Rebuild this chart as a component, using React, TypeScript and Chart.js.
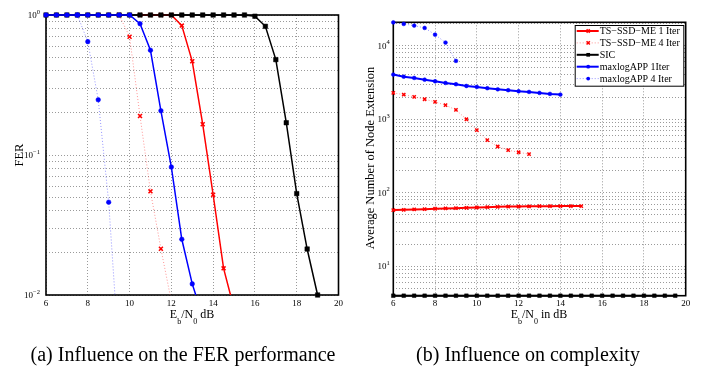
import React, { useEffect, useRef } from "react";
import { Chart, registerables } from "chart.js";
Chart.register(...registerables);

const FONT = "'Liberation Serif','Times New Roman',Times,serif";

// ---------- (a) FER vs Eb/N0 ----------
const FER_SIC_X = [6, 6.5, 7, 7.5, 8, 8.5, 9, 9.5, 10, 10.5, 11, 11.5, 12, 12.5, 13, 13.5, 14, 14.5, 15, 15.5, 16, 16.5, 17, 17.5, 18, 18.5, 19];
const FER_SIC = [1, 1, 1, 1, 1, 1, 1, 1, 1, 1, 1, 1, 1, 1, 1, 1, 1, 1, 1, 1, 0.98, 0.83, 0.48, 0.17, 0.053, 0.0213, 0.01];
const FER_TS1_X = [10.5, 11, 11.5, 12, 12.5, 13, 13.5, 14, 14.5, 15];
const FER_TS1 = [1, 1, 1, 1, 0.84, 0.467, 0.166, 0.052, 0.0155, 0.008];
const FER_TS4_X = [9.5, 10, 10.5, 11, 11.5, 12];
const FER_TS4 = [1, 0.7, 0.19, 0.055, 0.0214, 0.009];
const FER_MAX1_X = [6, 6.5, 7, 7.5, 8, 8.5, 9, 9.5, 10, 10.5, 11, 11.5, 12, 12.5, 13, 13.5];
const FER_MAX1 = [1, 1, 1, 1, 1, 1, 1, 1, 1, 0.867, 0.56, 0.207, 0.082, 0.025, 0.012, 0.007];
const FER_MAX4_X = [7.5, 8, 8.5, 9, 9.5];
const FER_MAX4 = [1, 0.645, 0.248, 0.046, 0.0036];

const LEFT_X_TICKS = [6, 8, 10, 12, 14, 16, 18, 20];
const LEFT_Y_DECADES: [number, string][] = [[1, "0"], [0.1, "\u22121"], [0.01, "\u22122"]];
const LEFT_Y_GRID = [0.01, 0.02, 0.03, 0.04, 0.05, 0.06, 0.07, 0.08, 0.09, 0.1, 0.2, 0.3, 0.4, 0.5, 0.6, 0.7, 0.8, 0.9, 1];

// ---------- (b) complexity ----------
const CX_SIC_X = [6, 6.5, 7, 7.5, 8, 8.5, 9, 9.5, 10, 10.5, 11, 11.5, 12, 12.5, 13, 13.5, 14, 14.5, 15, 15.5, 16, 16.5, 17, 17.5, 18, 18.5, 19, 19.5];
const CX_SIC = [4, 4, 4, 4, 4, 4, 4, 4, 4, 4, 4, 4, 4, 4, 4, 4, 4, 4, 4, 4, 4, 4, 4, 4, 4, 4, 4, 4];
const CX_TS1_X = [6, 6.5, 7, 7.5, 8, 8.5, 9, 9.5, 10, 10.5, 11, 11.5, 12, 12.5, 13, 13.5, 14, 14.5, 15];
const CX_TS1 = [58.2, 58.8, 59.4, 60, 60.7, 61.3, 61.9, 62.5, 63.2, 63.8, 64.5, 65, 65.2, 65.6, 65.9, 65.9, 66, 66, 66];
const CX_TS4_X = [6, 6.5, 7, 7.5, 8, 8.5, 9, 9.5, 10, 10.5, 11, 11.5, 12, 12.5];
const CX_TS4 = [2280, 2160, 2010, 1870, 1720, 1550, 1340, 1000, 710, 519, 426, 380, 356, 335];
const CX_MAX1_X = [6, 6.5, 7, 7.5, 8, 8.5, 9, 9.5, 10, 10.5, 11, 11.5, 12, 12.5, 13, 13.5, 14];
const CX_MAX1 = [4040, 3790, 3640, 3450, 3280, 3110, 2990, 2830, 2750, 2640, 2550, 2480, 2400, 2350, 2280, 2210, 2160];
const CX_MAX4_X = [6, 6.5, 7, 7.5, 8, 8.5, 9];
const CX_MAX4 = [20700, 19700, 18700, 17400, 14100, 11000, 6200];

const RIGHT_X_TICKS = [6, 8, 10, 12, 14, 16, 18, 20];
const RIGHT_Y_DECADES: [number, string][] = [[10, "1"], [100, "2"], [1000, "3"], [10000, "4"]];
const RIGHT_Y_GRID = [4, 5, 6, 7, 8, 9, 10, 20, 30, 40, 50, 60, 70, 80, 90, 100, 200, 300, 400, 500, 600, 700, 800, 900, 1000, 2000, 3000, 4000, 5000, 6000, 7000, 8000, 9000, 10000, 20000];

const LEGEND_LABELS = ["TS\u2212SSD\u2212ME 1 Iter", "TS\u2212SSD\u2212ME 4 Iter", "SIC", "maxlogAPP 1Iter", "maxlogAPP 4 Iter"];

const RED = "#ff0000";
const BLUE = "#0000ff";
const RED_LIGHT = "rgba(255,60,60,0.55)";
const BLUE_LIGHT = "rgba(60,60,255,0.55)";

const pts = (xs: number[], ys: number[]) => xs.map((x, i) => ({ x, y: ys[i] }));

type Part = { t: string; size: number; dy?: number };
function drawParts(ctx: CanvasRenderingContext2D, parts: Part[], x: number, y: number, align: "left" | "center" | "right") {
  let w = 0;
  for (const p of parts) {
    ctx.font = `${p.size}px ${FONT}`;
    w += ctx.measureText(p.t).width;
  }
  let cx = align === "left" ? x : align === "center" ? x - w / 2 : x - w;
  ctx.textAlign = "left";
  ctx.textBaseline = "alphabetic";
  for (const p of parts) {
    ctx.font = `${p.size}px ${FONT}`;
    ctx.fillText(p.t, cx, y + (p.dy || 0));
    cx += ctx.measureText(p.t).width;
  }
}

function drawMarker(ctx: CanvasRenderingContext2D, style: string, x: number, y: number, r: number, color: string) {
  ctx.save();
  ctx.fillStyle = color;
  ctx.strokeStyle = color;
  ctx.setLineDash([]);
  if (style === "circle") {
    ctx.beginPath();
    ctx.arc(x, y, r, 0, Math.PI * 2);
    ctx.fill();
  } else if (style === "rect") {
    const s = r * Math.SQRT1_2;
    ctx.fillRect(x - s, y - s, 2 * s, 2 * s);
  } else {
    const s = r * Math.SQRT1_2;
    ctx.lineWidth = 1.5;
    ctx.beginPath();
    ctx.moveTo(x - s, y - s);
    ctx.lineTo(x + s, y + s);
    ctx.moveTo(x - s, y + s);
    ctx.lineTo(x + s, y - s);
    ctx.stroke();
  }
  ctx.restore();
}

function gridScales(xMin: number, xMax: number, yMin: number, yMax: number, xTicks: number[], yGrid: number[]) {
  const grid = { color: "#9a9a9a", lineWidth: 1, drawTicks: false };
  const border = { display: false, dash: [1, 2] };
  return {
    x: {
      type: "linear" as const,
      min: xMin,
      max: xMax,
      grid,
      border,
      ticks: { display: false },
      afterBuildTicks: (s: any) => { s.ticks = xTicks.map((v) => ({ value: v })); },
    },
    y: {
      type: "logarithmic" as const,
      min: yMin,
      max: yMax,
      grid,
      border,
      ticks: { display: false },
      afterBuildTicks: (s: any) => { s.ticks = yGrid.map((v) => ({ value: v })); },
    },
  };
}

const frameBefore = (lw: number) => ({
  id: "frame",
  beforeDatasetsDraw(chart: any) {
    const { ctx, chartArea: a } = chart;
    ctx.save();
    ctx.strokeStyle = "#000";
    ctx.lineWidth = lw;
    ctx.strokeRect(a.left, a.top, a.right - a.left, a.bottom - a.top);
    ctx.restore();
  },
});

const ebParts = (tail: string): Part[] => [
  { t: "E", size: 12 },
  { t: "b", size: 8, dy: 5.5 },
  { t: "/N", size: 12 },
  { t: "0", size: 8, dy: 5.5 },
  { t: tail, size: 12 },
];

export default function App() {
  const leftRef = useRef<HTMLCanvasElement>(null);
  const rightRef = useRef<HTMLCanvasElement>(null);

  useEffect(() => {
    const RX = 350;
    const leftDecor = {
      id: "leftDecor",
      afterDraw(chart: any) {
        const { ctx, chartArea: a, scales } = chart;
        const x = scales.x, y = scales.y;
        ctx.save();
        ctx.fillStyle = "#000";
        for (const v of LEFT_X_TICKS) drawParts(ctx, [{ t: String(v), size: 9 }], x.getPixelForValue(v), 306, "center");
        for (const [v, e] of LEFT_Y_DECADES)
          drawParts(ctx, [{ t: "10", size: 9 }, { t: e, size: 6.5, dy: -4.5 }], a.left - 6, y.getPixelForValue(v) + 3, "right");
        drawParts(ctx, ebParts(" dB"), 192, 318, "center");
        drawParts(ctx, [{ t: "(a) Influence on the FER performance", size: 20 }], 183, 361, "center");
        ctx.translate(18, 155);
        ctx.rotate(-Math.PI / 2);
        drawParts(ctx, [{ t: "FER", size: 12.5 }], 0, 4.5, "center");
        ctx.restore();
      },
    };

    const clipBottom = { left: 6, top: 6, right: 6, bottom: 0 };
    const left = new Chart(leftRef.current!, {
      type: "line",
      data: {
        datasets: [
          { label: "maxlogAPP 1Iter", data: pts(FER_MAX1_X, FER_MAX1), borderColor: BLUE, backgroundColor: BLUE, borderWidth: 1.5, pointStyle: "circle", pointRadius: 2.3, pointBorderWidth: 0.5, pointBackgroundColor: BLUE, pointBorderColor: BLUE, clip: clipBottom, order: 0 },
          { label: "maxlogAPP 4 Iter", data: pts(FER_MAX4_X, FER_MAX4), borderColor: BLUE_LIGHT, borderDash: [1, 2], borderWidth: 1, pointStyle: "circle", pointRadius: 2.3, pointBorderWidth: 0.5, pointBackgroundColor: BLUE, pointBorderColor: BLUE, clip: clipBottom, order: 1 },
          { label: "SIC", data: pts(FER_SIC_X, FER_SIC), borderColor: "#000", borderWidth: 1.5, pointStyle: "rect", pointRadius: 3.2, pointBorderWidth: 0.5, pointBackgroundColor: "#000", pointBorderColor: "#000", clip: false as any, order: 2 },
          { label: "TS-SSD-ME 1 Iter", data: pts(FER_TS1_X, FER_TS1), borderColor: RED, borderWidth: 1.5, pointStyle: "crossRot", pointRadius: 2.8, pointBorderWidth: 1.5, pointBorderColor: RED, clip: clipBottom, order: 3 },
          { label: "TS-SSD-ME 4 Iter", data: pts(FER_TS4_X, FER_TS4), borderColor: RED_LIGHT, borderDash: [1, 2], borderWidth: 1, pointStyle: "crossRot", pointRadius: 2.8, pointBorderWidth: 1.5, pointBorderColor: RED, clip: clipBottom, order: 4 },
        ],
      },
      options: {
        responsive: false,
        animation: false,
        devicePixelRatio: 1,
        layout: { padding: { left: 46, right: 4, top: 15, bottom: 76 } },
        plugins: { legend: { display: false }, tooltip: { enabled: false } },
        elements: { line: { tension: 0 } },
        scales: gridScales(6, 20, 0.01, 1, LEFT_X_TICKS, LEFT_Y_GRID) as any,
      },
      plugins: [frameBefore(1.6), leftDecor],
    });

    const legendEntries = [
      { color: RED, lineColor: RED, dash: [] as number[], lw: 2, style: "crossRot", r: 2.3 },
      { color: RED, lineColor: RED_LIGHT, dash: [1, 2], lw: 1, style: "crossRot", r: 2.3 },
      { color: "#000", lineColor: "#000", dash: [] as number[], lw: 2, style: "rect", r: 2.6 },
      { color: BLUE, lineColor: BLUE, dash: [] as number[], lw: 2, style: "circle", r: 1.9 },
      { color: BLUE, lineColor: BLUE_LIGHT, dash: [1, 2], lw: 1, style: "circle", r: 1.9 },
    ];

    const rightDecor = {
      id: "rightDecor",
      afterDraw(chart: any) {
        const { ctx, chartArea: a, scales } = chart;
        const x = scales.x, y = scales.y;
        ctx.save();
        ctx.fillStyle = "#000";
        for (const v of RIGHT_X_TICKS) drawParts(ctx, [{ t: String(v), size: 9 }], x.getPixelForValue(v), 306, "center");
        for (const [v, e] of RIGHT_Y_DECADES)
          drawParts(ctx, [{ t: "10", size: 9 }, { t: e, size: 6.5, dy: -4.5 }], a.left - 3.5, y.getPixelForValue(v) + 3, "right");
        drawParts(ctx, ebParts(" in dB"), 539 - RX, 318, "center");
        drawParts(ctx, [{ t: "(b) Influence on complexity", size: 20 }], 528 - RX, 361, "center");

        // legend box
        const bx = 574.7 - RX, by = 25, bw = 108.6, bh = 60.7;
        ctx.fillStyle = "#fff";
        ctx.fillRect(bx, by, bw, bh);
        ctx.strokeStyle = "#000";
        ctx.lineWidth = 1;
        ctx.strokeRect(bx + 0.5, by + 0.5, bw, bh);
        legendEntries.forEach((en, i) => {
          const ry = by + 6 + i * 11.9;
          ctx.save();
          ctx.strokeStyle = en.lineColor;
          ctx.lineWidth = en.lw;
          ctx.setLineDash(en.dash);
          ctx.beginPath();
          ctx.moveTo(bx + 2, ry);
          ctx.lineTo(bx + 24, ry);
          ctx.stroke();
          ctx.restore();
          drawMarker(ctx, en.style, bx + 13.5, ry, en.r, en.color);
          ctx.fillStyle = "#000";
          ctx.font = `10px ${FONT}`;
          ctx.textAlign = "left";
          ctx.textBaseline = "middle";
          ctx.fillText(LEGEND_LABELS[i], bx + 25, ry + 0.5);
        });

        ctx.translate(369 - RX, 158);
        ctx.rotate(-Math.PI / 2);
        ctx.fillStyle = "#000";
        drawParts(ctx, [{ t: "Average Number of Node Extension", size: 12.5 }], 0, 4.5, "center");
        ctx.restore();
      },
    };

    const right = new Chart(rightRef.current!, {
      type: "line",
      data: {
        datasets: [
          { label: LEGEND_LABELS[0], data: pts(CX_TS1_X, CX_TS1), borderColor: RED, borderWidth: 2, pointStyle: "crossRot", pointRadius: 2.3, pointBorderWidth: 1.5, pointBorderColor: RED, clip: false as any },
          { label: LEGEND_LABELS[1], data: pts(CX_TS4_X, CX_TS4), borderColor: RED_LIGHT, borderDash: [1, 2], borderWidth: 1, pointStyle: "crossRot", pointRadius: 2.3, pointBorderWidth: 1.5, pointBorderColor: RED, clip: false as any },
          { label: LEGEND_LABELS[2], data: pts(CX_SIC_X, CX_SIC), borderColor: "#000", borderWidth: 2, pointStyle: "rect", pointRadius: 2.6, pointBorderWidth: 0.5, pointBackgroundColor: "#000", pointBorderColor: "#000", clip: false as any },
          { label: LEGEND_LABELS[3], data: pts(CX_MAX1_X, CX_MAX1), borderColor: BLUE, borderWidth: 2, pointStyle: "circle", pointRadius: 1.9, pointBorderWidth: 0.5, pointBackgroundColor: BLUE, pointBorderColor: BLUE, clip: false as any },
          { label: LEGEND_LABELS[4], data: pts(CX_MAX4_X, CX_MAX4), borderColor: BLUE_LIGHT, borderDash: [1, 2], borderWidth: 1, pointStyle: "circle", pointRadius: 1.9, pointBorderWidth: 0.5, pointBackgroundColor: BLUE, pointBorderColor: BLUE, clip: false as any },
        ],
      },
      options: {
        responsive: false,
        animation: false,
        devicePixelRatio: 1,
        layout: { padding: { left: 43.3, right: 31.3, top: 22.3, bottom: 75.3 } },
        plugins: { legend: { display: false }, tooltip: { enabled: false } },
        elements: { line: { tension: 0 } },
        scales: gridScales(6, 20, 4, 20750, RIGHT_X_TICKS, RIGHT_Y_GRID) as any,
      },
      plugins: [frameBefore(1.6), rightDecor],
    });

    return () => {
      left.destroy();
      right.destroy();
    };
  }, []);

  return (
    <div style={{ position: "fixed", left: 0, top: 0, width: 717, height: 371, background: "#fff", overflow: "hidden" }}>
      <canvas ref={leftRef} width={344} height={371} style={{ position: "absolute", left: 0, top: 0, width: 344, height: 371 }} />
      <canvas ref={rightRef} width={367} height={371} style={{ position: "absolute", left: 350, top: 0, width: 367, height: 371 }} />
    </div>
  );
}
